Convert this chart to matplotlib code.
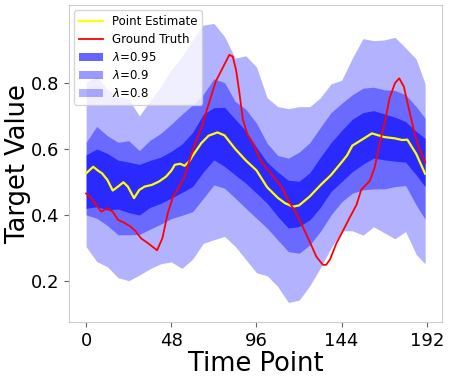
import matplotlib
matplotlib.use("Agg")
import matplotlib.pyplot as plt
import numpy as np

# time grid for the interval bands
t_band = [0, 6, 12, 18, 24, 30, 36, 42, 48, 54, 60, 66, 72, 78, 84, 90, 96,
          102, 108, 114, 120, 126, 132, 138, 144, 150, 156, 162, 168, 174, 180, 186, 191]

hi_80 = [0.80, 0.82, 0.78, 0.76, 0.75, 0.70, 0.745, 0.79, 0.84, 0.88, 0.93, 0.975, 0.98, 0.94, 0.875, 0.882, 0.848,
         0.755, 0.728, 0.722, 0.728, 0.728, 0.755, 0.797, 0.808, 0.875, 0.934, 0.928, 0.930, 0.938, 0.906, 0.872, 0.797]
lo_80 = [0.304, 0.259, 0.243, 0.21, 0.201, 0.218, 0.237, 0.252, 0.258, 0.238, 0.266, 0.314, 0.325, 0.335, 0.305, 0.265, 0.225,
         0.216, 0.183, 0.135, 0.142, 0.185, 0.24, 0.30, 0.352, 0.352, 0.339, 0.364, 0.346, 0.328, 0.350, 0.28, 0.252]
hi_90 = [0.62, 0.668, 0.64, 0.62, 0.625, 0.595, 0.626, 0.647, 0.675, 0.705, 0.733, 0.765, 0.812, 0.801, 0.744, 0.720, 0.678,
         0.617, 0.580, 0.572, 0.590, 0.619, 0.665, 0.710, 0.738, 0.764, 0.784, 0.787, 0.779, 0.777, 0.764, 0.728, 0.693]
lo_90 = [0.40, 0.39, 0.368, 0.34, 0.34, 0.341, 0.357, 0.372, 0.389, 0.399, 0.41, 0.45, 0.491, 0.481, 0.451, 0.420, 0.390,
         0.360, 0.324, 0.289, 0.284, 0.309, 0.35, 0.400, 0.440, 0.466, 0.476, 0.479, 0.479, 0.486, 0.489, 0.430, 0.387]
hi_95 = [0.582, 0.60, 0.586, 0.566, 0.56, 0.553, 0.565, 0.575, 0.593, 0.615, 0.65, 0.705, 0.725, 0.726, 0.69, 0.655, 0.605,
         0.56, 0.53, 0.505, 0.502, 0.528, 0.575, 0.619, 0.656, 0.690, 0.710, 0.716, 0.706, 0.696, 0.683, 0.653, 0.632]
lo_95 = [0.42, 0.425, 0.415, 0.418, 0.407, 0.40, 0.423, 0.435, 0.451, 0.468, 0.486, 0.53, 0.567, 0.547, 0.521, 0.496, 0.466,
         0.435, 0.395, 0.360, 0.365, 0.385, 0.423, 0.471, 0.501, 0.531, 0.554, 0.572, 0.567, 0.563, 0.560, 0.521, 0.486]

# point estimate
t_est = [0, 4, 7, 9, 12, 15, 18, 21, 23.5, 27, 30, 33, 37, 41, 45, 48, 50, 53, 55.5, 58, 61, 65, 69, 74, 78, 84, 90,
         96, 102, 108, 112, 116.5, 120, 126, 132, 138, 144, 147, 150, 156, 161, 168, 174, 178, 181, 186, 191]
est = [0.526, 0.546, 0.533, 0.526, 0.506, 0.474, 0.486, 0.499, 0.486, 0.451, 0.476, 0.486, 0.491, 0.501, 0.516, 0.534,
       0.552, 0.555, 0.549, 0.562, 0.587, 0.618, 0.640, 0.650, 0.641, 0.600, 0.565, 0.535, 0.484, 0.452, 0.436, 0.425,
       0.429, 0.456, 0.490, 0.521, 0.560, 0.580, 0.610, 0.630, 0.647, 0.636, 0.632, 0.627, 0.628, 0.585, 0.525]

# ground truth
t_true = [0, 3, 6, 8.5, 12, 15, 18, 21, 25, 28, 31, 35, 40, 43, 46, 49, 52, 55.5, 58, 61, 65, 69, 73, 77, 80.7, 82.6,
          84.5, 86.4, 88.3, 91, 94, 98.6, 104, 110, 114.6, 117.4, 122, 126, 129.7, 133.4, 135.3, 137.5, 141, 145,
          148.5, 152.3, 155, 159.8, 162.6, 165.4, 168, 171, 174, 176.4, 179, 182, 185, 188, 191]
truth = [0.465, 0.450, 0.428, 0.410, 0.420, 0.410, 0.385, 0.378, 0.365, 0.350, 0.329, 0.314, 0.293, 0.330, 0.405, 0.456,
         0.482, 0.516, 0.562, 0.610, 0.665, 0.735, 0.804, 0.846, 0.885, 0.880, 0.839, 0.769, 0.690, 0.642, 0.617, 0.562,
         0.526, 0.486, 0.437, 0.415, 0.365, 0.319, 0.274, 0.249, 0.249, 0.266, 0.314, 0.355, 0.392, 0.430, 0.476, 0.503,
         0.544, 0.617, 0.673, 0.754, 0.799, 0.814, 0.789, 0.718, 0.648, 0.597, 0.559]

xticks = [0, 48, 96, 144, 192]

fig = plt.figure(figsize=(4.52, 3.81), dpi=100)
ax = fig.add_axes([0.153, 0.155, 0.825, 0.832])

f95 = ax.fill_between(t_band, lo_95, hi_95, color="blue", alpha=0.6, linewidth=0, label=r"$\lambda$=0.95")
f90 = ax.fill_between(t_band, lo_90, hi_90, color="blue", alpha=0.4, linewidth=0, label=r"$\lambda$=0.9")
f80 = ax.fill_between(t_band, lo_80, hi_80, color="blue", alpha=0.3, linewidth=0, label=r"$\lambda$=0.8")
l1, = ax.plot(t_est, est, color="yellow", linewidth=1.6, label="Point Estimate")
l2, = ax.plot(t_true, truth, color="red", linewidth=1.3, label="Ground Truth")

ax.set_xlim(-9.55, 200.55)
ax.set_ylim(0.076, 1.036)
ax.set_xticks(xticks)
ax.set_yticks([0.2, 0.4, 0.6, 0.8])
ax.tick_params(labelsize=13, color="0.4", length=3.5, width=0.8)
ax.set_xlabel("Time Point", fontsize=18.5, labelpad=1)
ax.set_ylabel("Target Value", fontsize=18.5, labelpad=0)
for s in ax.spines.values():
    s.set_color("#cccccc")

ax.legend(handles=[l1, l2, f95, f90, f80], loc="upper left", fontsize=8.5,
          labelspacing=0.42, borderaxespad=0.45)

fig.savefig("out.png", dpi=100)
